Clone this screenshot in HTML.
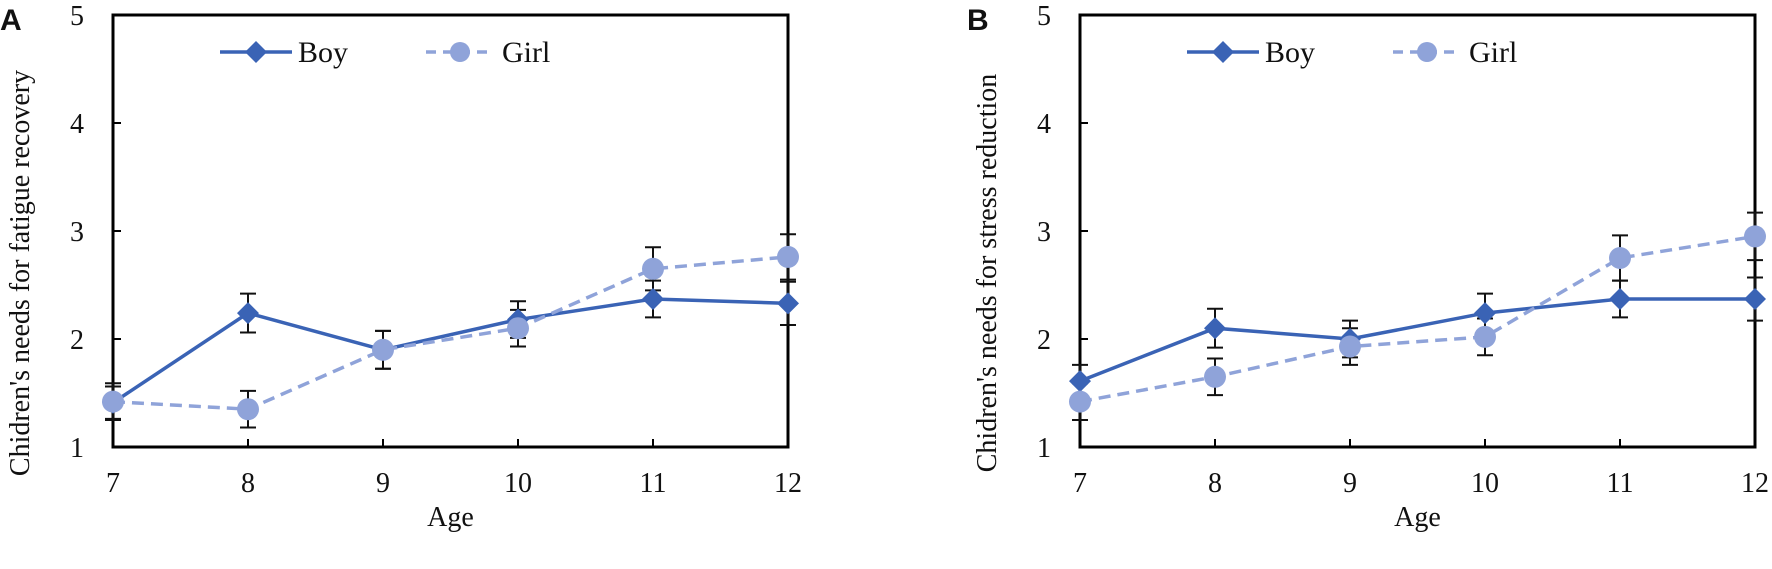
<!DOCTYPE html>
<html><head><meta charset="utf-8"><style>
body{margin:0;background:#fff;width:1772px;height:569px;overflow:hidden}
svg{display:block}
text{font-family:"Liberation Serif",serif;fill:#111}
</style></head><body>
<svg id="chart" width="1772" height="569" viewBox="0 0 1772 569"></svg>
<script>
const ages=[7,8,9,10,11,12];
const yTicks=[1,2,3,4,5];
const boyA=[1.41,2.24,1.90,2.18,2.37,2.33];
const boyAErr=[0.15,0.18,0.175,0.17,0.17,0.2];
const girlA=[1.42,1.35,1.90,2.10,2.65,2.76];
const girlAErr=[0.17,0.17,0.175,0.17,0.2,0.21];
const boyB=[1.61,2.10,2.00,2.24,2.37,2.37];
const boyBErr=[0.15,0.18,0.17,0.18,0.17,0.2];
const girlB=[1.42,1.65,1.93,2.02,2.75,2.95];
const girlBErr=[0.17,0.17,0.17,0.17,0.21,0.22];
const NS="http://www.w3.org/2000/svg";
const svg=document.getElementById('chart');
const BOY="#3a63b5",GIRL="#8fa3d9";
function mk(tag,attrs,parent){const e=document.createElementNS(NS,tag);for(const k in attrs)e.setAttribute(k,attrs[k]);(parent||svg).appendChild(e);return e;}
function panel(id,left,letter,ytitle,boy,boyErr,girl,girlErr){
  const top=15,bottom=447,right=left+675;
  const xs=a=>left+(a-7)/5*(right-left);
  const ys=v=>bottom-(v-1)/4*(bottom-top);
  const g=mk('g',{});
  
  
  const lt=mk('text',{x:left-113,y:top+15,'font-size':30,'font-weight':'bold',style:'font-family:"Liberation Sans",sans-serif'},g);
  lt.textContent=letter;
  
  
  const box=mk('rect',{x:left,y:top,width:right-left,height:bottom-top,fill:'none',stroke:'#000','stroke-width':3},g);
  
  
  yTicks.forEach(t=>{
    mk('line',{x1:left,x2:left+8,y1:ys(t),y2:ys(t),stroke:'#000','stroke-width':2},g);
    const tx=mk('text',{x:left-36,y:ys(t)+10,'font-size':28,'text-anchor':'middle'},g);
    tx.textContent=t;
    
    
  });
  ages.forEach(a=>{
    mk('line',{x1:xs(a),x2:xs(a),y1:bottom,y2:bottom-8,stroke:'#000','stroke-width':2},g);
    const tx=mk('text',{x:xs(a),y:492,'font-size':28,'text-anchor':'middle'},g);
    tx.textContent=a;
    
    
  });
  const xt=mk('text',{x:(left+right)/2,y:526,'font-size':28,'text-anchor':'middle'},g);
  xt.textContent='Age';
  
  
  const yt=mk('text',{x:0,y:0,'font-size':28,'text-anchor':'middle',transform:`translate(${left-84},273) rotate(-90)`},g);
  yt.textContent=ytitle;
  
  
  // error bars
  function errs(vals,err,nm){
    vals.forEach((v,i)=>{
      const x=xs(ages[i]),y1=ys(v+err[i]),y2=ys(v-err[i]);
      const e=mk('path',{d:`M${x},${y1}V${y2}M${x-8},${y1}H${x+8}M${x-8},${y2}H${x+8}`,stroke:'#111','stroke-width':2,fill:'none'},g);
      
      
    });
  }
  errs(boy,boyErr,'boy');errs(girl,girlErr,'girl');
  const bl=mk('polyline',{points:boy.map((v,i)=>xs(ages[i])+','+ys(v)).join(' '),fill:'none',stroke:BOY,'stroke-width':3.5},g);
  
  
  const gl=mk('polyline',{points:girl.map((v,i)=>xs(ages[i])+','+ys(v)).join(' '),fill:'none',stroke:GIRL,'stroke-width':3.5,'stroke-dasharray':'12 7'},g);
  
  
  boy.forEach((v,i)=>{
    const x=xs(ages[i]),y=ys(v);
    const d=mk('path',{d:`M${x},${y-11}L${x+11},${y}L${x},${y+11}L${x-11},${y}Z`,fill:BOY},g);
    
    
  });
  girl.forEach((v,i)=>{
    const c=mk('circle',{cx:xs(ages[i]),cy:ys(v),r:11,fill:GIRL},g);
    
    
  });
  // legend
  const lg=mk('g',{},g);
  
  
  const o=left-113;
  const e1=mk('g',{},lg);
  
  
  mk('line',{x1:220+o,x2:292+o,y1:52,y2:52,stroke:BOY,'stroke-width':3.5},e1);
  mk('path',{d:`M${256+o},41L${267+o},52L${256+o},63L${245+o},52Z`,fill:BOY},e1);
  const b=mk('text',{x:298+o,y:62,'font-size':30},e1);b.textContent='Boy';
  const e2=mk('g',{},lg);
  
  
  mk('line',{x1:426+o,x2:492+o,y1:52,y2:52,stroke:GIRL,'stroke-width':3.5,'stroke-dasharray':'10 7'},e2);
  mk('circle',{cx:460+o,cy:52,r:10,fill:GIRL},e2);
  const gt=mk('text',{x:502+o,y:62,'font-size':30},e2);gt.textContent='Girl';
}
panel('a',113,'A',"Chidren's needs for fatigue recovery",boyA,boyAErr,girlA,girlAErr);
panel('b',1080,'B',"Chidren's needs for stress reduction",boyB,boyBErr,girlB,girlBErr);
</script>
</body></html>
